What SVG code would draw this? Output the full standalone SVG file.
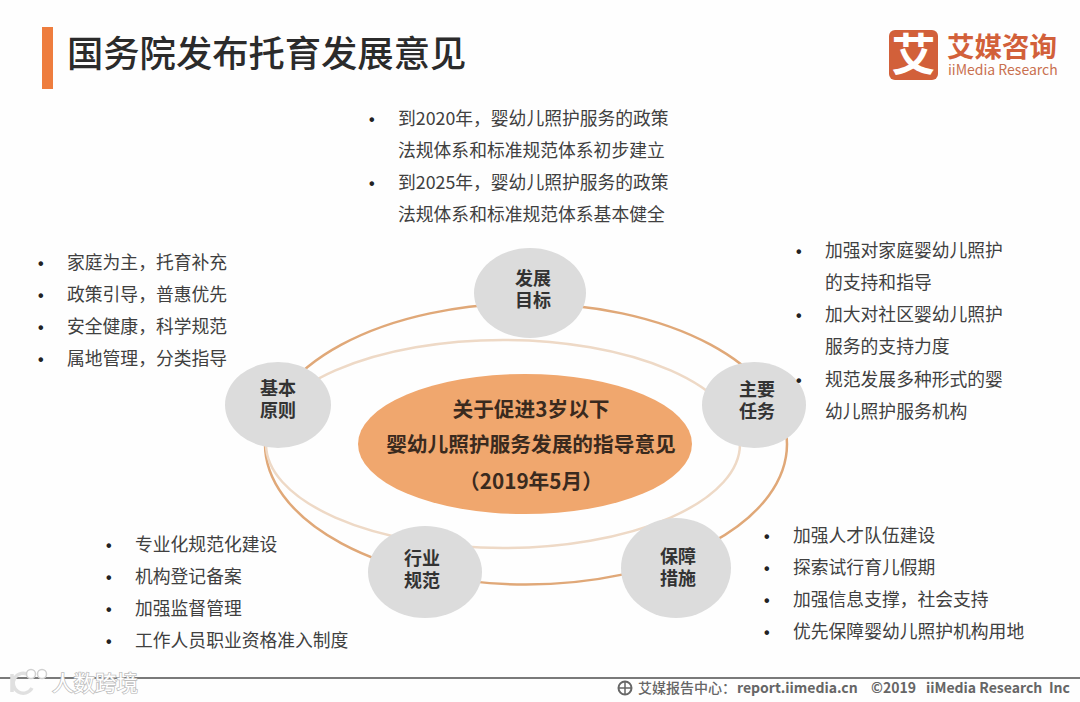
<svg xmlns="http://www.w3.org/2000/svg" width="1080" height="702" viewBox="0 0 1080 702">
<style>
text{font-family:"Noto Sans CJK SC","Liberation Sans",sans-serif}
.b{font-size:17.800px;fill:#404040}
.d{font-size:16px;fill:#222;font-weight:700;font-family:"Liberation Sans",sans-serif}
.n{font-size:18px;font-weight:700;fill:#333;text-anchor:middle}
.c{font-size:20.700px;font-weight:700;fill:#3a2a1e;text-anchor:middle}
.node{fill:#dcdcdc}
.ring{fill:none}
</style>
<rect width="1080" height="702" fill="#fefefe"/>
<rect x="42" y="27" width="11" height="62" fill="#ee7d3e"/>
<text x="67" y="67" font-size="36.300" font-weight="500" fill="#2b2b2b">国务院发布托育发展意见</text>
<g id="logo">
<rect x="889" y="30" width="49" height="50" rx="6" fill="#d2603a"/>
<text x="913.500" y="71" font-size="44" font-weight="700" fill="#fff" text-anchor="middle">艾</text>
<text x="947" y="57" font-size="27.500" font-weight="700" fill="#d2603a">艾媒咨询</text>
<text x="948" y="75" font-size="14" fill="#c9704f" font-family="Liberation Sans">iiMedia Research</text>
</g>
<g id="connectors">
<ellipse class="ring" cx="526" cy="444" rx="261" ry="140.500" stroke="#e0a878" stroke-width="2.500"/>
<ellipse class="ring" cx="503" cy="444" rx="237" ry="104" stroke="#eed9c6" stroke-width="2.500"/>
</g>
<g id="center"><ellipse cx="525" cy="444" rx="167" ry="70" fill="#f0a76e"/>
<text class="c" x="531" y="417">关于促进3岁以下</text>
<text class="c" x="531" y="452">婴幼儿照护服务发展的指导意见</text>
<text class="c" x="531" y="489">（2019年5月）</text></g>
<g id="node-goal"><ellipse class="node" cx="530" cy="293" rx="56" ry="45"/><text class="n" x="533" y="285">发展</text><text class="n" x="533" y="307">目标</text></g>
<g id="node-task"><ellipse class="node" cx="754" cy="405" rx="52" ry="43"/><text class="n" x="757" y="396">主要</text><text class="n" x="757" y="418">任务</text></g>
<g id="node-principle"><ellipse class="node" cx="278" cy="405" rx="53" ry="43"/><text class="n" x="278" y="395">基本</text><text class="n" x="278" y="417">原则</text></g>
<g id="node-norm"><ellipse class="node" cx="425" cy="572" rx="57" ry="46"/><text class="n" x="422" y="565">行业</text><text class="n" x="422" y="587">规范</text></g>
<g id="node-guarantee"><ellipse class="node" cx="676" cy="568" rx="55" ry="50"/><text class="n" x="678" y="563">保障</text><text class="n" x="678" y="585">措施</text></g>
<g id="list-goal">
<text class="d" x="369" y="125">•</text><text class="b" x="398" y="125">到2020年，婴幼儿照护服务的政策</text>
<text class="b" x="398" y="157">法规体系和标准规范体系初步建立</text>
<text class="d" x="369" y="189">•</text><text class="b" x="398" y="189">到2025年，婴幼儿照护服务的政策</text>
<text class="b" x="398" y="221">法规体系和标准规范体系基本健全</text>
</g>
<g id="list-principle">
<text class="d" x="38" y="269">•</text><text class="b" x="67" y="269">家庭为主，托育补充</text>
<text class="d" x="38" y="301">•</text><text class="b" x="67" y="301">政策引导，普惠优先</text>
<text class="d" x="38" y="333">•</text><text class="b" x="67" y="333">安全健康，科学规范</text>
<text class="d" x="38" y="365">•</text><text class="b" x="67" y="365">属地管理，分类指导</text>
</g>
<g id="list-task">
<text class="d" x="796" y="257">•</text><text class="b" x="825" y="257">加强对家庭婴幼儿照护</text>
<text class="b" x="825" y="289">的支持和指导</text>
<text class="d" x="796" y="321">•</text><text class="b" x="825" y="321">加大对社区婴幼儿照护</text>
<text class="b" x="825" y="353">服务的支持力度</text>
<text class="d" x="796" y="386">•</text><text class="b" x="825" y="386">规范发展多种形式的婴</text>
<text class="b" x="825" y="418">幼儿照护服务机构</text>
</g>
<g id="list-norm">
<text class="d" x="106" y="551">•</text><text class="b" x="135" y="551">专业化规范化建设</text>
<text class="d" x="106" y="583">•</text><text class="b" x="135" y="583">机构登记备案</text>
<text class="d" x="106" y="615">•</text><text class="b" x="135" y="615">加强监督管理</text>
<text class="d" x="106" y="647">•</text><text class="b" x="135" y="647">工作人员职业资格准入制度</text>
</g>
<g id="list-guarantee">
<text class="d" x="764" y="542">•</text><text class="b" x="793" y="542">加强人才队伍建设</text>
<text class="d" x="764" y="574">•</text><text class="b" x="793" y="574">探索试行育儿假期</text>
<text class="d" x="764" y="606">•</text><text class="b" x="793" y="606">加强信息支撑，社会支持</text>
<text class="d" x="764" y="638">•</text><text class="b" x="793" y="638">优先保障婴幼儿照护机构用地</text>
</g>
<g id="footer">
<rect x="0" y="677" width="1080" height="2" fill="#7a7a7a"/>
<circle cx="625" cy="688" r="6.500" fill="none" stroke="#666" stroke-width="2"/>
<path d="M619 688h12M625 682v12" stroke="#666" stroke-width="1.500" fill="none"/>
<text x="638" y="693" font-size="14" font-weight="500" fill="#666">艾媒报告中心：</text>
<text x="737" y="693" font-size="14" font-weight="700" fill="#666" font-family="Liberation Sans">report.iimedia.cn</text>
<text x="871" y="693" font-size="14" font-weight="700" fill="#666" font-family="Liberation Sans">©2019</text>
<text x="926" y="693" font-size="14" font-weight="700" fill="#666" font-family="Liberation Sans">iiMedia Research</text>
<text x="1049" y="693" font-size="14" font-weight="700" fill="#666" font-family="Liberation Sans">Inc</text>
</g>
<g id="watermark">
<path d="M12 674v18M29 675a10 10 0 1 0 3 13" fill="none" stroke="#e0e0e0" stroke-width="3.500"/>
<circle cx="31" cy="674" r="4.500" fill="#fff" stroke="#d0d0d0" stroke-width="1.500"/>
<circle cx="42" cy="674" r="4.500" fill="#fff" stroke="#d0d0d0" stroke-width="1.500"/>
<text x="52" y="691" font-size="21.500" fill="#fff" stroke="#bdbdbd" stroke-width="1.500" paint-order="stroke">人数跨境</text>
</g>
</svg>
